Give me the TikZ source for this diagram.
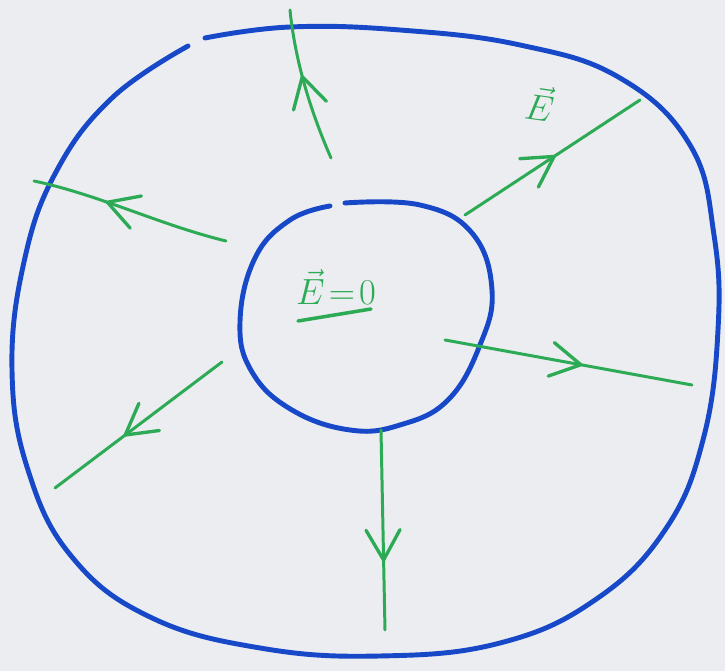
\documentclass[tikz,border=0pt]{standalone}
\usetikzlibrary{decorations.markings}
\definecolor{pen}{RGB}{22,72,200}
\definecolor{fld}{RGB}{45,170,85}
\definecolor{paper}{RGB}{236,237,240}
\tikzset{
  shell/.style={draw=pen, line width=2.8pt, line cap=round},
  fieldline/.style={draw=fld, line width=1.7pt, line cap=round,
    postaction={decorate},
    decoration={markings, mark=at position #1 with {
      \draw[fld, line width=1.9pt, line cap=round, line join=round]
        (-30,17) -- (0,0) -- (-30,-17);}}},
  lbl/.style={text=fld, font=\fontsize{22}{26}\selectfont}
}
\begin{document}
\begin{tikzpicture}[x=0.02cm, y=-0.02cm]
\fill[paper] (0,0) rectangle (725,671);
\useasboundingbox (0,0) rectangle (725,671);
% outer shell (gap at top-left)
\draw[shell] plot[smooth, tension=0.7] coordinates {
 (205,38) (290,27) (400,30) (520,45) (620,78) (690,145) (714,235) (718,330)
 (703,440) (665,530) (595,600) (500,643) (380,656) (260,648) (150,617)
 (72,557) (28,470) (12,370) (24,262) (56,172) (112,98) (188,46)};
% inner shell (gap at top)
\draw[shell] plot[smooth, tension=0.7] coordinates {
 (345,203) (420,205) (472,233) (492,290) (480,345) (448,400) (400,425)
 (350,430) (292,410) (252,372) (240,322) (255,258) (290,220) (330,206)};
% field line end points
\coordinate (a1) at (331,158); \coordinate (b1) at (290,10);
\coordinate (a2) at (465,215); \coordinate (b2) at (640,100);
\coordinate (a3) at (226,241); \coordinate (b3) at (34,181);
\coordinate (a4) at (445,340); \coordinate (b4) at (692,385);
\coordinate (a5) at (222,362); \coordinate (b5) at (55,488);
\coordinate (a6) at (381,430); \coordinate (b6) at (385,630);
\draw[fieldline=0.56] (a1) .. controls (310,110) and (295,60) .. (b1);
\draw[fieldline=0.51] (a2) -- (b2);
\draw[fieldline=0.62] (a3) .. controls (160,225) and (100,195) .. (b3);
\draw[fieldline=0.55] (a4) -- (b4);
\draw[fieldline=0.58] (a5) -- (b5);
\draw[fieldline=0.65] (a6) -- (b6);
% labels
\node[lbl, rotate=-8] (eout) at (540,103) {$\vec{E}$};
\node[lbl] (ein) at (336,287) {$\vec{E}\!=\!0$};
\coordinate (u1) at (298,321); \coordinate (u2) at (371,309);
\draw[fld, line width=2pt, line cap=round] (u1) -- (u2);
\end{tikzpicture}
\end{document}
